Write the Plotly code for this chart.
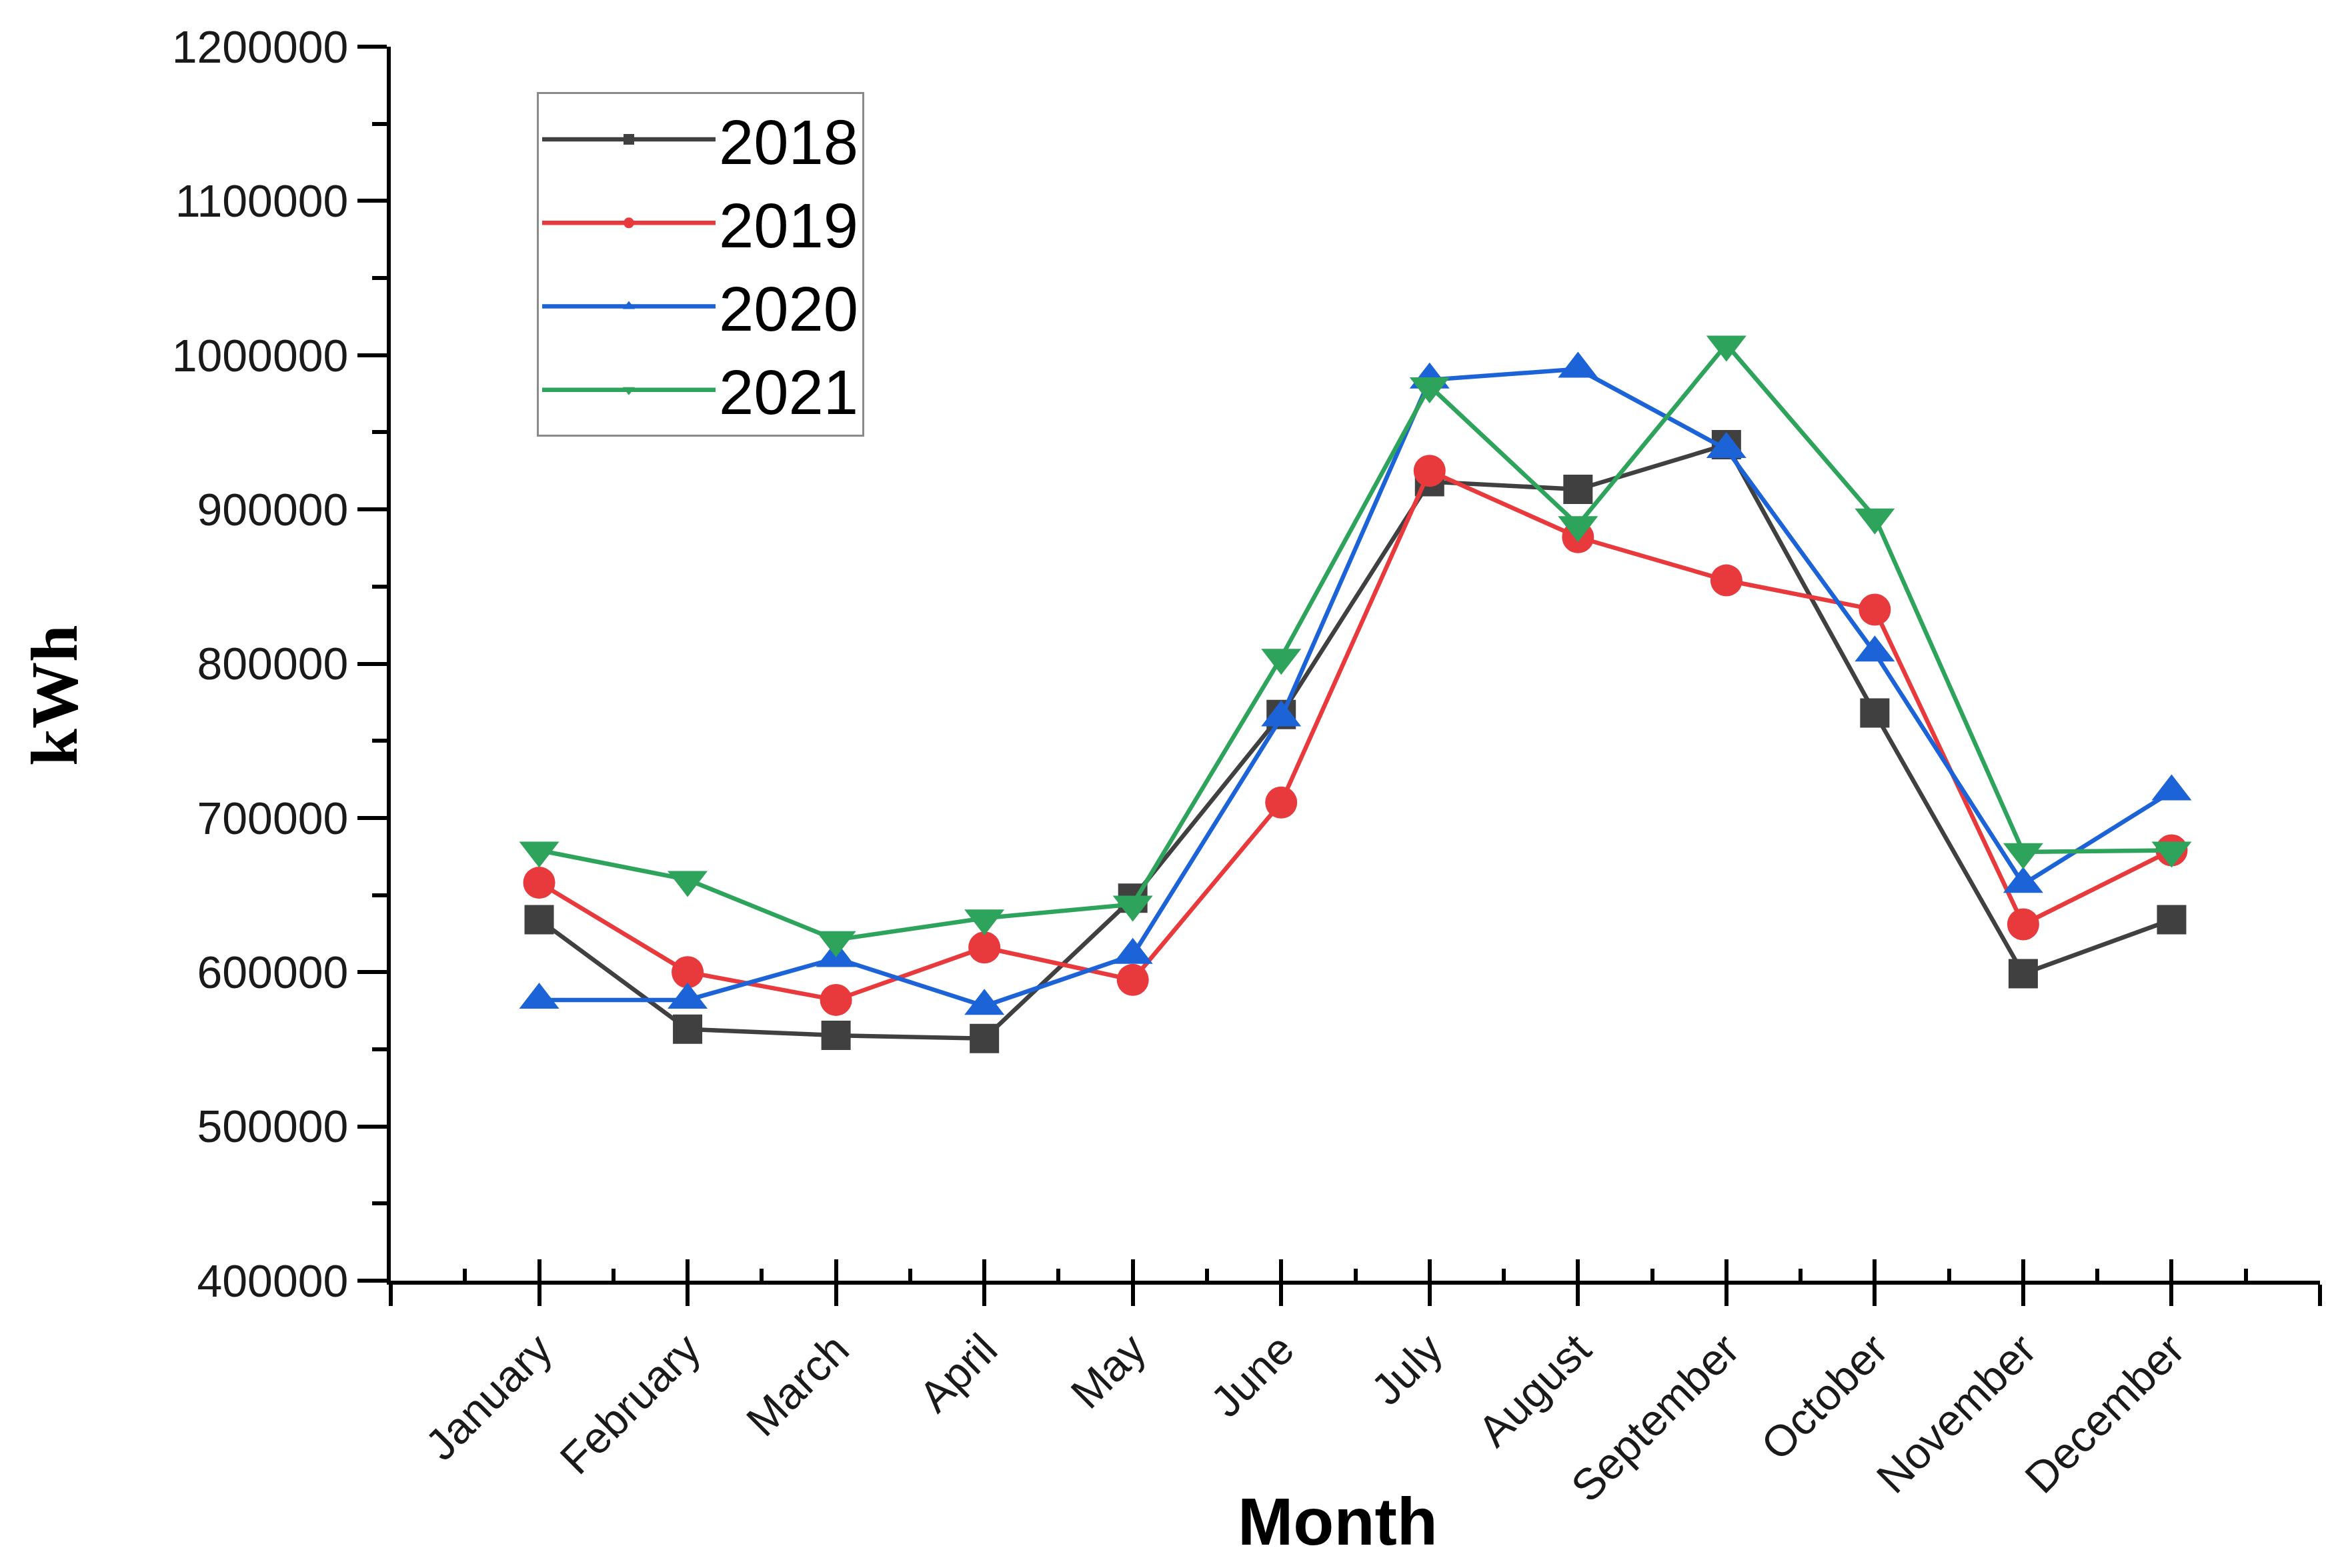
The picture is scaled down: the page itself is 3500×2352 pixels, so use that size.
import plotly.graph_objects as go

months = ["January", "February", "March", "April", "May", "June", "July",
          "August", "September", "October", "November", "December"]
years = ["2018", "2019", "2020", "2021"]

kwh_2018 = [634000, 563000, 559000, 557000, 648000, 767000, 918000, 913000, 942000, 768000, 599000, 634000]
kwh_2019 = [658000, 600000, 582000, 616000, 595000, 710000, 925000, 882000, 854000, 835000, 631000, 679000]
kwh_2020 = [582000, 582000, 609000, 578000, 611000, 765000, 984000, 991000, 939000, 807000, 657000, 717000]
kwh_2021 = [679000, 660000, 621000, 635000, 644000, 804000, 980000, 890000, 1007000, 895000, 678000, 679000]

series = [kwh_2018, kwh_2019, kwh_2020, kwh_2021]
colors = ["#404040", "#e8393c", "#1c63d8", "#2ea35c"]
symbols = ["square", "circle", "triangle-up", "triangle-down"]
msizes = [44, 48, 52, 52]

xpos = list(range(1, len(months) + 1))

fig = go.Figure()
for name, vals, col, sym, ms in zip(years, series, colors, symbols, msizes):
    fig.add_trace(go.Scatter(
        x=xpos, y=vals, name=name, mode="lines+markers",
        line=dict(color=col, width=6.5),
        marker=dict(symbol=sym, size=ms, color=col, line=dict(width=0)),
    ))

# helper trace for the inside half of the crossing ticks
fig.add_trace(go.Scatter(x=[], y=[], xaxis="x2", showlegend=False, hoverinfo="skip"))

major_x = list(range(0, len(months) + 2))
minor_x = [v + 0.5 for v in major_x[:-1]]
ticktext = [""] + months + [""]

fig.update_layout(
    width=3500, height=2352,
    paper_bgcolor="white", plot_bgcolor="white",
    margin=dict(l=578, r=29, t=62, b=439),
    font=dict(family="Liberation Sans, Arial", color="black"),
    xaxis=dict(
        range=[0, 13], tickmode="array", tickvals=major_x, ticktext=ticktext,
        tickangle=-45, tickfont=dict(family="Liberation Sans, Arial", size=66, color="#1a1a1a"),
        ticks="outside", ticklen=32, tickwidth=6, tickcolor="black",
        showline=True, linecolor="black", linewidth=6,
        showgrid=False, zeroline=False,
    ),
    xaxis2=dict(
        range=[0, 13], overlaying="x", anchor="y", side="bottom",
        tickmode="array", tickvals=major_x, showticklabels=False,
        ticks="inside", ticklen=32, tickwidth=6, tickcolor="black",
        minor=dict(tickmode="array", tickvals=minor_x, ticks="inside", ticklen=18, tickwidth=6, tickcolor="black"),
        showline=False, showgrid=False, zeroline=False,
    ),
    yaxis=dict(
        range=[400000, 1200000], dtick=100000, tick0=400000, tickformat="d",
        tickfont=dict(family="Liberation Sans, Arial", size=68, color="#1a1a1a"),
        ticks="outside", ticklen=44, tickwidth=6, tickcolor="black",
        minor=dict(dtick=50000, ticks="outside", ticklen=22, tickwidth=6, tickcolor="black"),
        showline=True, linecolor="black", linewidth=6,
        showgrid=False, zeroline=False,
    ),
    legend=dict(
        x=0.0757, y=0.963, xanchor="left", yanchor="top",
        bgcolor="white", bordercolor="#8a8a8a", borderwidth=3,
        font=dict(family="Liberation Sans, Arial", size=94, color="black"),
        itemsizing="trace", itemwidth=260, tracegroupgap=0,
    ),
    annotations=[
        dict(text="<b>Month</b>", xref="paper", yref="paper", x=0.491, y=-0.195,
             xanchor="center", yanchor="middle", showarrow=False,
             font=dict(family="Liberation Sans, Arial", size=100, color="black")),
        dict(text="<b>kWh</b>", xref="paper", yref="paper", x=-0.1742, y=0.474,
             xanchor="center", yanchor="middle", showarrow=False, textangle=-90,
             font=dict(family="Liberation Serif, Times New Roman", size=100, color="black")),
    ],
)

fig.write_html("out.html")
